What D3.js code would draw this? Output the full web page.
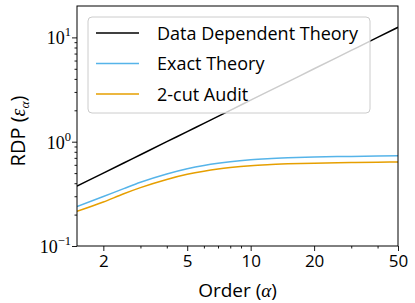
<!DOCTYPE html>
<html>
<head>
<meta charset="utf-8">
<script src="https://cdn.jsdelivr.net/npm/d3@7"></script>
<style>
  body { margin: 0; background: #fff; }
  svg { display: block; }
  .sans { font-family: "Open Sans", "DejaVu Sans", sans-serif; }
  .serif { font-family: "Liberation Serif", "DejaVu Serif", serif; }
</style>
</head>
<body>
<svg id="chart" width="415" height="303"></svg>
<script>
var orders = [1.5, 2, 2.5, 3, 4, 5, 6, 7, 8, 10, 12, 15, 20, 30, 40, 50];
var dataDependent = [0.375, 0.5, 0.625, 0.75, 1.0, 1.25, 1.5, 1.75, 2.0, 2.5, 3.0, 3.75, 5.0, 7.5, 10.0, 12.5];
var exactTheory = [0.239, 0.298, 0.355, 0.408, 0.49, 0.55, 0.592, 0.622, 0.644, 0.672, 0.688, 0.702, 0.714, 0.723, 0.729, 0.733];
var twoCutAudit = [0.215, 0.264, 0.317, 0.363, 0.435, 0.487, 0.522, 0.547, 0.565, 0.589, 0.602, 0.613, 0.623, 0.631, 0.636, 0.64];

var seriesNames = ['Data Dependent Theory', 'Exact Theory', '2-cut Audit'];
var seriesColors = ['#000000', '#56B4E9', '#E69F00'];
var seriesValues = [dataDependent, exactTheory, twoCutAudit];

var xTicks = [2, 5, 10, 20, 50],
    xMinor = [3, 4, 6, 7, 8, 9, 30, 40],
    yTicks = [0.1, 1, 10],
    yTickExp = ['\u22121', '0', '1'],
    yMinor = [0.2, 0.3, 0.4, 0.5, 0.6, 0.7, 0.8, 0.9, 2, 3, 4, 5, 6, 7, 8, 9];

var svg = d3.select('#chart'),
    pLeft = 77, pRight = 398, pTop = 6, pBottom = 246;

var x = d3.scaleLog().domain([1.5, 50]).range([pLeft, pRight]),
    y = d3.scaleLog().domain([0.1, 20]).range([pBottom, pTop]);

svg.append('defs').append('clipPath').attr('id', 'plot-clip')
  .append('rect').attr('x', pLeft).attr('y', pTop)
  .attr('width', pRight - pLeft).attr('height', pBottom - pTop);

// lines
var line = d3.line()
  .x(function(d) { return x(d[0]); })
  .y(function(d) { return y(d[1]); })
  .curve(d3.curveMonotoneX);

svg.append('g').attr('clip-path', 'url(#plot-clip)')
  .selectAll('path')
  .data(seriesValues)
  .enter().append('path')
    .attr('d', function(vals) { return line(orders.map(function(o, i) { return [o, vals[i]]; })); })
    .attr('fill', 'none')
    .attr('stroke', function(d, i) { return seriesColors[i]; })
    .attr('stroke-width', 1.5);

// axes
var xAxis = svg.append('g').attr('transform', 'translate(0,' + pBottom + ')')
  .call(d3.axisBottom(x).tickValues(xTicks).tickFormat(d3.format('d')).tickSize(5).tickPadding(4));
xAxis.append('g')
  .call(d3.axisBottom(x).tickValues(xMinor).tickFormat('').tickSize(2.5));
xAxis.selectAll('text').attr('class', 'sans').style('font-size', '17px').attr('fill', '#000');

var yAxis = svg.append('g').attr('transform', 'translate(' + pLeft + ',0)')
  .call(d3.axisLeft(y).tickValues(yTicks).tickFormat('').tickSize(5));
yAxis.append('g')
  .call(d3.axisLeft(y).tickValues(yMinor).tickFormat('').tickSize(2.5));

yAxis.selectAll('.yl')
  .data(yTicks)
  .enter().append('text')
    .attr('class', 'serif')
    .attr('x', -6)
    .attr('y', function(d) { return y(d) + 7; })
    .attr('text-anchor', 'end')
    .attr('fill', '#000')
    .style('font-size', '18px')
    .each(function(d, i) {
      var t = d3.select(this);
      t.append('tspan').text('10');
      t.append('tspan').attr('dy', -8).style('font-size', '12.5px').text(yTickExp[i]);
    });

svg.selectAll('.domain').remove();
svg.selectAll('.tick line').attr('stroke', '#000').attr('stroke-width', 0.9);

svg.append('rect')
  .attr('x', pLeft).attr('y', pTop)
  .attr('width', pRight - pLeft).attr('height', pBottom - pTop)
  .attr('fill', 'none').attr('stroke', '#000').attr('stroke-width', 1);

// axis labels
svg.append('text')
  .attr('class', 'sans')
  .attr('x', (pLeft + pRight) / 2).attr('y', 297)
  .attr('text-anchor', 'middle')
  .style('font-size', '19px')
  .html('Order (<tspan class="serif" font-style="italic">\u03b1</tspan>)');

var yl = svg.append('text')
  .attr('class', 'sans')
  .attr('transform', 'translate(25,' + 131 + ') rotate(-90)')
  .attr('text-anchor', 'middle')
  .style('font-size', '20px');
yl.append('tspan').text('RDP (');
yl.append('tspan').attr('class', 'serif').attr('font-style', 'italic').text('\u03b5');
yl.append('tspan').attr('class', 'serif').attr('font-style', 'italic').attr('dy', 4).style('font-size', '13.5px').text('\u03b1');
yl.append('tspan').attr('dy', -4).text(')');

// legend
var legend = svg.append('g');
legend.append('rect')
  .attr('x', 88).attr('y', 17).attr('width', 282).attr('height', 96)
  .attr('rx', 4)
  .attr('fill', '#fff').attr('fill-opacity', 0.8)
  .attr('stroke', '#cccccc').attr('stroke-width', 1);

var items = legend.selectAll('.item')
  .data(seriesNames)
  .enter().append('g')
    .attr('transform', function(d, i) { return 'translate(0,' + (33 + i * 30.5) + ')'; });
items.append('line')
  .attr('x1', 96).attr('x2', 139)
  .attr('stroke', function(d, i) { return seriesColors[i]; })
  .attr('stroke-width', 1.5);
items.append('text')
  .attr('class', 'sans')
  .attr('x', 157).attr('y', 6.5)
  .style('font-size', '18px')
  .text(function(d) { return d; });
</script>
</body>
</html>
